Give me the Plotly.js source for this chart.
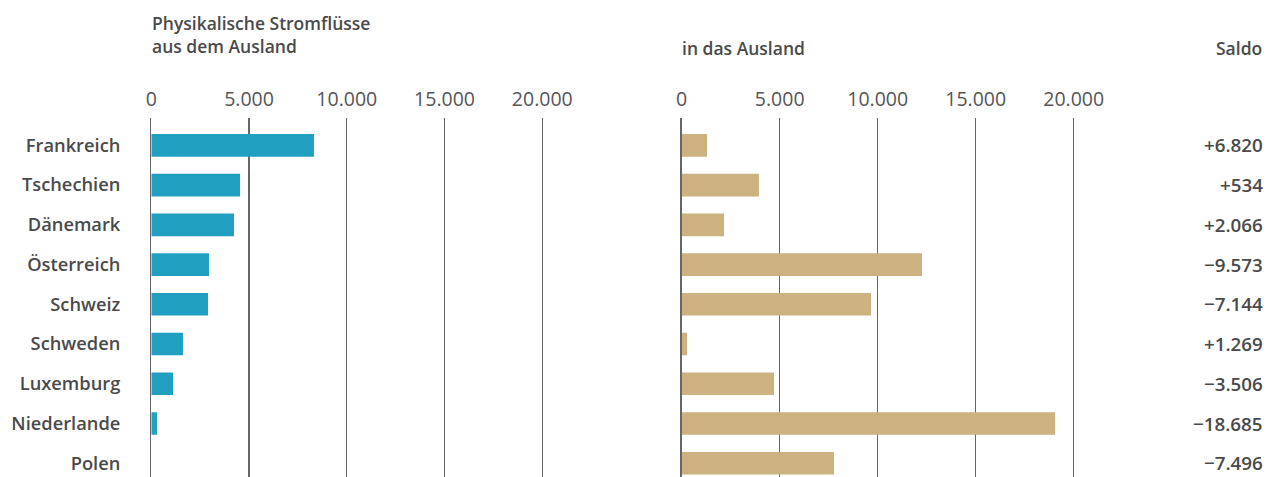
<!DOCTYPE html>
<html><head><meta charset="utf-8">
<script src="https://cdn.plot.ly/plotly-3.0.1.min.js"></script>
<style>body{margin:0;background:#fff}#c{width:1271px;height:477px}</style>
</head><body><div id="c"></div>
<script>
const countries = ["Frankreich","Tschechien","Dänemark","Österreich","Schweiz","Schweden","Luxemburg","Niederlande","Polen"];
const importsFromAbroad = [8320,4540,4230,2950,2900,1620,1110,290,0];
const exportsToAbroad = [1290,3940,2160,12260,9660,270,4710,19050,7770];
const saldoLabels = ["+6.820","+534","+2.066","−9.573","−7.144","+1.269","−3.506","−18.685","−7.496"];
const tickVals = [0,5000,10000,15000,20000];
const tickLabels = ["0","5.000","10.000","15.000","20.000"];

const FONT = "Open Sans";
const grid = "#666";
const txt = "#4a4a4a";
const traces = [
  {type:"bar", orientation:"h", y:countries, x:importsFromAbroad, xaxis:"x", yaxis:"y",
   marker:{color:"#219fc1"}, width:0.57, hoverinfo:"x+y"},
  {type:"bar", orientation:"h", y:countries, x:exportsToAbroad, xaxis:"x2", yaxis:"y2",
   marker:{color:"#cbb280"}, width:0.57, hoverinfo:"x+y"}
];
const xCommon = {range:[0,22000], side:"top", tickvals:tickVals, ticktext:tickLabels,
  showgrid:true, gridcolor:grid, gridwidth:1.3, zeroline:false, showline:false,
  ticks:"outside", ticklen:3, tickcolor:"rgba(0,0,0,0)",
  tickfont:{family:FONT, size:19.5, color:"#555", weight:400}, fixedrange:true};
const yRange = [8.345,-0.687];
const hdrFont = {family:FONT, size:17.5, color:txt, weight:600};
const layout = {
  width:1271, height:477, margin:{l:0,r:0,t:118,b:0},
  paper_bgcolor:"#fff", plot_bgcolor:"#fff", showlegend:false, bargap:0.43,
  xaxis:Object.assign({domain:[151.3/1271, 581.4/1271], anchor:"y"}, xCommon),
  xaxis2:Object.assign({domain:[681.7/1271, 1112.9/1271], anchor:"y2"}, xCommon),
  yaxis:{type:"category", range:yRange, showgrid:false, zeroline:false,
    showline:true, linecolor:grid, linewidth:1.3,
    ticks:"outside", ticklen:26, tickcolor:"rgba(0,0,0,0)",
    tickfont:{family:FONT, size:18.3, color:txt, weight:600}, anchor:"x"},
  yaxis2:{type:"category", range:yRange, showgrid:false, zeroline:false,
    showline:true, linecolor:grid, linewidth:1.3, showticklabels:false, anchor:"x2"},
  annotations: [
    {text:"Physikalische Stromflüsse<br>aus dem Ausland", xref:"paper", yref:"paper",
     x:150/1271, y:1, yshift:118-9, xanchor:"left", yanchor:"top", align:"left", showarrow:false,
     font:hdrFont},
    {text:"in das Ausland", xref:"paper", yref:"paper",
     x:680/1271, y:1, yshift:118-34, xanchor:"left", yanchor:"top", align:"left", showarrow:false,
     font:hdrFont},
    {text:"Saldo", xref:"paper", yref:"paper",
     x:1264/1271, y:1, yshift:118-34, xanchor:"right", yanchor:"top", align:"right", showarrow:false,
     font:hdrFont}
  ].concat(countries.map((c,i)=>({text:saldoLabels[i], xref:"paper", yref:"y2", x:1265/1271, y:c,
     xanchor:"right", yanchor:"middle", showarrow:false,
     font:{family:FONT, size:18.8, color:txt, weight:600}})))
};
Plotly.newPlot("c", traces, layout, {displayModeBar:false, staticPlot:true});
</script></body></html>
